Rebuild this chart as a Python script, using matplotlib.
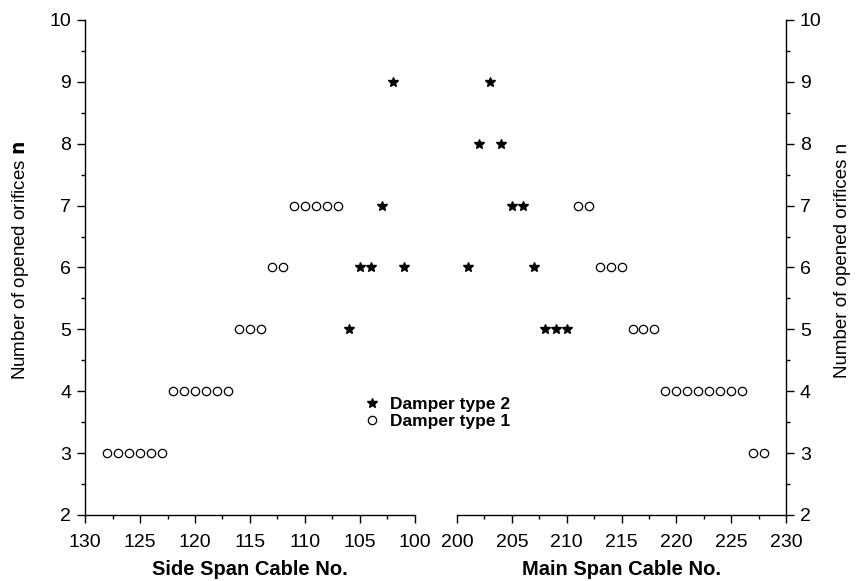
import matplotlib.pyplot as plt
from matplotlib.ticker import MultipleLocator
from matplotlib.lines import Line2D

plt.rcParams['font.family'] = ['Liberation Sans', 'DejaVu Sans']

# Side span (left panel)
side_t1_cable = [128, 127, 126, 125, 124, 123,
                 122, 121, 120, 119, 118, 117,
                 116, 115, 114,
                 113, 112,
                 111, 110, 109, 108, 107]
side_t1_n = [3, 3, 3, 3, 3, 3,
             4, 4, 4, 4, 4, 4,
             5, 5, 5,
             6, 6,
             7, 7, 7, 7, 7]
side_t2_cable = [106, 105, 104, 103, 102, 101]
side_t2_n = [5, 6, 6, 7, 9, 6]

# Main span (right panel)
main_t2_cable = [201, 202, 203, 204, 205, 206, 207, 208, 209, 210]
main_t2_n = [6, 8, 9, 8, 7, 7, 6, 5, 5, 5]
main_t1_cable = [211, 212,
                 213, 214, 215,
                 216, 217, 218,
                 219, 220, 221, 222, 223, 224, 225, 226,
                 227, 228]
main_t1_n = [7, 7,
             6, 6, 6,
             5, 5, 5,
             4, 4, 4, 4, 4, 4, 4, 4,
             3, 3]

fig = plt.figure(figsize=(8.57, 5.81), dpi=100)
ax1 = fig.add_axes([0.0992, 0.1136, 0.385, 0.852])
ax2 = fig.add_axes([0.5333, 0.1136, 0.3839, 0.852])

circ = dict(marker='o', mfc='white', mec='black', mew=0.9, ms=6, ls='none')
star = dict(marker='*', color='black', ms=7.5, ls='none')

ax1.plot(side_t1_cable, side_t1_n, **circ)
ax1.plot(side_t2_cable, side_t2_n, **star)
ax2.plot(main_t2_cable, main_t2_n, **star)
ax2.plot(main_t1_cable, main_t1_n, **circ)

ax1.set_xlim(130, 100)
ax2.set_xlim(200, 230)
for ax in (ax1, ax2):
    ax.set_ylim(2, 10)
    ax.xaxis.set_major_locator(MultipleLocator(5))
    ax.xaxis.set_minor_locator(MultipleLocator(2.5))
    ax.yaxis.set_major_locator(MultipleLocator(1))
    ax.yaxis.set_minor_locator(MultipleLocator(0.5))
    ax.spines['top'].set_visible(False)
    ax.tick_params(which='major', direction='out', length=6, width=1, labelsize=14, pad=4)
    ax.tick_params(axis='x', which='major', pad=8)
    ax.tick_params(which='minor', direction='out', length=3, width=1)
    for s in ax.spines.values():
        s.set_linewidth(1)

ax1.spines['right'].set_visible(False)
ax2.spines['left'].set_visible(False)
ax2.yaxis.tick_right()
ax2.yaxis.set_label_position('right')

ax1.set_xlabel('Side Span Cable No.', fontsize=14.5, fontweight='bold', labelpad=6)
ax2.set_xlabel('Main Span Cable No.', fontsize=14.5, fontweight='bold', labelpad=6)
ax1.set_ylabel(r'Number of opened orifices $\mathbf{n}$', fontsize=13.5)
ax2.set_ylabel('Number of opened orifices n', fontsize=13.5)
ax1.yaxis.set_label_coords(-0.165, 0.515)
ax2.yaxis.set_label_coords(1.145, 0.515)

handles = [Line2D([], [], **star), Line2D([], [], **circ)]
fig.legend(handles, ['Damper type 2', 'Damper type 1'], loc='upper left',
           bbox_to_anchor=(0.404, 0.344), frameon=False, handletextpad=0.4,
           handlelength=1.2, labelspacing=0.1, prop={'weight': 'bold', 'size': 12.5})

fig.savefig('out.png', dpi=100)
